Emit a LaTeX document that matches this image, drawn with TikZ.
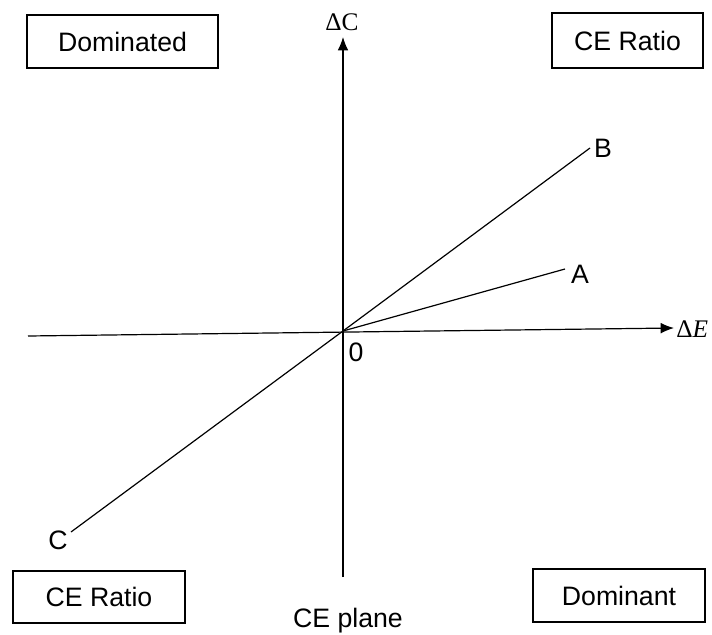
\documentclass[tikz,border=0pt]{standalone}
\usepackage{fontspec}
\setmainfont{Liberation Sans}
\newfontfamily\serifgr{Liberation Serif}
\usetikzlibrary{arrows.meta}
\tikzset{
  quadbox/.style={draw, line width=0.8pt, inner sep=0pt, font=\fontsize{20}{23}\selectfont},
  lbl/.style={inner sep=0pt, font=\fontsize{20}{23}\selectfont},
  axlbl/.style={inner sep=0pt, font=\serifgr\fontsize{19}{22}\selectfont},
  ax/.style={line width=0.9pt}
}
\begin{document}
\begin{tikzpicture}[x=0.75pt,y=-0.75pt]
        \useasboundingbox (0,0) rectangle (712,634);
        %assi
        \coordinate (O) at (343,331);
        \coordinate (yb) at (343,577);
        \coordinate (yt) at (343,37);
        \coordinate (xl) at (28,336);
        \coordinate (xr) at (674,328);
        \draw[ax,-{Latex[length=10pt,width=8pt]}] (yb) -- (yt);
        \draw[ax,-{Latex[length=10pt,width=8pt]}] (xl) -- (xr);
        \node[axlbl] (dc) at (342,22) {ΔC};
        \node[axlbl, anchor=west] (de) at (676,329) {Δ\textit{E}};
        \node[lbl] (zero) at (356,352) {0};
        %rette
        \coordinate (b) at (590,148);
        \coordinate (a) at (565,269);
        \coordinate (c) at (71,532);
        \draw[ax] (O) -- (b);
        \draw[ax] (O) -- (a);
        \draw[ax] (O) -- (c);
        \node[lbl] (lb) at (603,148) {B};
        \node[lbl] (la) at (580,274) {A};
        \node[lbl] (lc) at (58,540) {C};
        %quadranti
        \node[quadbox, minimum width=191*0.75pt, minimum height=53*0.75pt] (dom) at (122.5,41.5) {Dominated};
        \node[quadbox, minimum width=151*0.75pt, minimum height=55*0.75pt] (cer) at (627.5,40.5) {CE Ratio};
        \node[quadbox, minimum width=172*0.75pt, minimum height=52*0.75pt] (cel) at (99,597) {CE Ratio};
        \node[quadbox, minimum width=172*0.75pt, minimum height=53*0.75pt] (dmt) at (619,595.5) {Dominant};
        \node[lbl, anchor=base] (plane) at (348,627) {CE plane};
\end{tikzpicture}
\end{document}
